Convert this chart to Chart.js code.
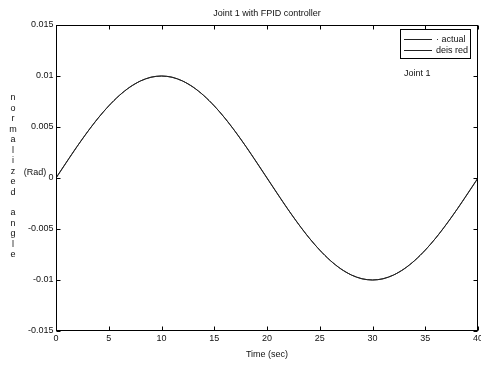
<!DOCTYPE html>
<html>
<head>
<meta charset="utf-8">
<script src="https://cdn.jsdelivr.net/npm/chart.js@4.4.1/dist/chart.umd.min.js"></script>
<style>
    html, body { margin: 0; padding: 0; background: #fff; }
</style>
</head>
<body>
<canvas id="jointChart" width="481" height="365"></canvas>
<script>
const timeSec = [0, 1, 2, 3, 4, 5, 6, 7, 8, 9, 10, 11, 12, 13, 14, 15, 16, 17, 18, 19, 20,
    21, 22, 23, 24, 25, 26, 27, 28, 29, 30, 31, 32, 33, 34, 35, 36, 37, 38, 39, 40];
const actualAngle = [0, 0.00156, 0.00309, 0.00454, 0.00588, 0.00707, 0.00809, 0.00891, 0.00951, 0.00988, 0.01,
    0.00988, 0.00951, 0.00891, 0.00809, 0.00707, 0.00588, 0.00454, 0.00309, 0.00156, 0,
    -0.00156, -0.00309, -0.00454, -0.00588, -0.00707, -0.00809, -0.00891, -0.00951, -0.00988, -0.01,
    -0.00988, -0.00951, -0.00891, -0.00809, -0.00707, -0.00588, -0.00454, -0.00309, -0.00156, 0];
const desiredAngle = [0, 0.00156, 0.00309, 0.00454, 0.00588, 0.00707, 0.00809, 0.00891, 0.00951, 0.00988, 0.01,
    0.00988, 0.00951, 0.00891, 0.00809, 0.00707, 0.00588, 0.00454, 0.00309, 0.00156, 0,
    -0.00156, -0.00309, -0.00454, -0.00588, -0.00707, -0.00809, -0.00891, -0.00951, -0.00988, -0.01,
    -0.00988, -0.00951, -0.00891, -0.00809, -0.00707, -0.00588, -0.00454, -0.00309, -0.00156, 0];
const xTickValues = [0, 5, 10, 15, 20, 25, 30, 35, 40];
const xTickLabels = ['0', '5', '10', '15', '20', '25', '30', '35', '40'];
const yTickValues = [0.015, 0.01, 0.005, 0, -0.005, -0.01, -0.015];
const yTickLabels = ['0.015', '0.01', '0.005', '0', '-0.005', '-0.01', '-0.015'];
const seriesLabels = ['\u00b7 actual', 'deis red'];

const FONT = '9px "Liberation Sans", Arial, sans-serif';

function toPoints(xs, ys) {
    return xs.map((x, i) => ({ x: x, y: ys[i] }));
}

// matlab style box, inward ticks, labels and legend
const matlabAxes = {
    id: 'matlabAxes',
    afterDatasetsDraw(chart) {
        const ctx = chart.ctx;
        const area = chart.chartArea;
        const xs = chart.scales.x;
        const ys = chart.scales.y;
        const L = Math.round(area.left) + 0.5;
        const R = Math.round(area.right) - 0.5;
        const T = Math.round(area.top) + 0.5;
        const B = Math.round(area.bottom) - 0.5;

        ctx.save();
        ctx.strokeStyle = '#000';
        ctx.lineWidth = 1;
        ctx.strokeRect(L, T, R - L, B - T);

        ctx.beginPath();
        xTickValues.forEach(v => {
            const px = Math.round(xs.getPixelForValue(v)) + 0.5;
            ctx.moveTo(px, B); ctx.lineTo(px, B - 4);
            ctx.moveTo(px, T); ctx.lineTo(px, T + 4);
        });
        yTickValues.forEach(v => {
            const py = Math.round(ys.getPixelForValue(v)) + 0.5;
            ctx.moveTo(L, py); ctx.lineTo(L + 4, py);
            ctx.moveTo(R, py); ctx.lineTo(R - 4, py);
        });
        ctx.stroke();

        ctx.fillStyle = '#111';
        ctx.font = FONT;
        ctx.textBaseline = 'middle';

        ctx.textAlign = 'right';
        yTickValues.forEach((v, i) => {
            ctx.fillText(yTickLabels[i], L - 3, ys.getPixelForValue(v));
        });

        ctx.textAlign = 'center';
        xTickValues.forEach((v, i) => {
            ctx.fillText(xTickLabels[i], xs.getPixelForValue(v), B + 8);
        });

        ctx.fillText('Joint 1 with FPID controller', (L + R) / 2, 14);
        ctx.fillText('Time (sec)', (L + R) / 2, 355);

        const letters = 'normalized angle'.split('');
        letters.forEach((ch, i) => {
            ctx.fillText(ch, 13, 98 + i * 10.45);
        });
        ctx.fillText('(Rad)', 35, 173);

        ctx.textAlign = 'left';
        ctx.fillText('Joint 1', 404, 74);

        // legend
        ctx.fillStyle = '#fff';
        ctx.fillRect(400.5, 29.5, 70, 29);
        ctx.strokeRect(400.5, 29.5, 70, 29);
        ctx.fillStyle = '#111';
        ctx.strokeStyle = '#222';
        seriesLabels.forEach((label, i) => {
            const y = 39.5 + i * 11;
            ctx.beginPath();
            ctx.moveTo(404, y);
            ctx.lineTo(432, y);
            ctx.stroke();
            ctx.fillText(label, 436, y);
        });
        ctx.restore();
    }
};

const ctx = document.getElementById('jointChart').getContext('2d');
new Chart(ctx, {
    type: 'line',
    data: {
        datasets: [{
            label: seriesLabels[0],
            data: toPoints(timeSec, actualAngle),
            borderColor: '#222',
            borderWidth: 1,
            pointRadius: 0,
            tension: 0.3
        }, {
            label: seriesLabels[1],
            data: toPoints(timeSec, desiredAngle),
            borderColor: '#222',
            borderWidth: 1,
            pointRadius: 0,
            tension: 0.3
        }]
    },
    options: {
        responsive: false,
        animation: false,
        devicePixelRatio: 1,
        layout: {
            padding: { left: 56, top: 25, right: 3, bottom: 34 }
        },
        plugins: {
            legend: { display: false },
            title: { display: false },
            tooltip: { enabled: false }
        },
        scales: {
            x: { type: 'linear', min: 0, max: 40, display: false },
            y: { type: 'linear', min: -0.015, max: 0.015, display: false }
        }
    },
    plugins: [matlabAxes]
});
</script>
</body>
</html>
